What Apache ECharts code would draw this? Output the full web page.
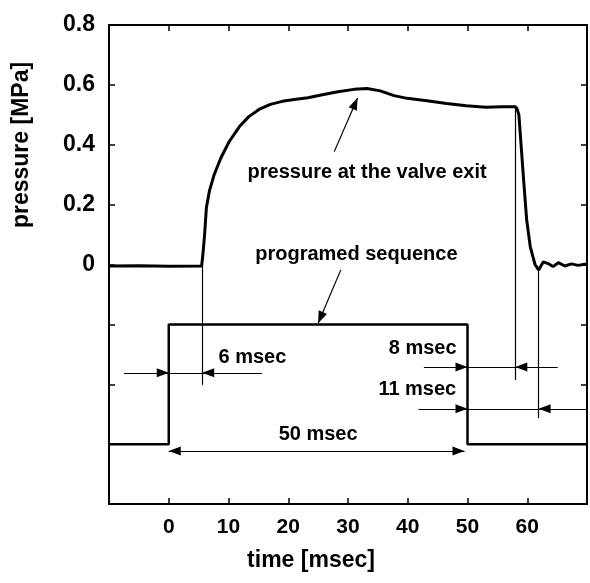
<!DOCTYPE html>
<html>
<head>
<meta charset="utf-8">
<script src="https://cdn.jsdelivr.net/npm/echarts@6/dist/echarts.min.js"></script>
<style>
  html, body { margin: 0; padding: 0; background: #fff; }
  #chart { width: 590px; height: 583px; }
</style>
</head>
<body>
<div id="chart"></div>
<script>
// pressure at the valve exit
const pressTime = [-10, -5, 0, 5.5, 5.7, 6.0, 6.3, 6.8, 7.6, 8.7, 10.1, 11.8, 13.4, 15.1, 17.0, 19.0, 21.0, 23.3, 25.5, 28.3, 31.0, 33.2, 35.4, 37.7, 39.9, 43.2, 46.5, 49.8, 53.1, 55.8, 58.0, 58.3, 58.6, 59.0, 59.4, 59.9, 60.5, 61.3, 61.9, 62.7, 63.5, 64.3, 65.2, 66.3, 67.4, 68.5, 69.6, 70]
const pressValue = [-0.005, -0.004, -0.006, -0.005, 0.03, 0.10, 0.19, 0.245, 0.30, 0.355, 0.41, 0.46, 0.494, 0.518, 0.535, 0.545, 0.551, 0.557, 0.566, 0.577, 0.585, 0.588, 0.58, 0.564, 0.555, 0.547, 0.538, 0.53, 0.525, 0.527, 0.527, 0.52, 0.5, 0.39, 0.28, 0.15, 0.06, 0.0, -0.018, 0.009, 0.003, -0.007, 0.006, -0.005, 0.002, -0.003, 0.001, 0]

// programed sequence (step)
const stepTime = [-10, 0, 0, 50, 50, 70]
const stepValue = [-0.6, -0.6, -0.2, -0.2, -0.6, -0.6]

// thin vertical marker lines: x, top, bottom
const markerLines = [[5.6, 0, -0.402], [58, 0.527, -0.386], [61.9, -0.01, -0.513]]

// dimension lines: y, from, to
const dimLines = [[-0.362, -7.5, 15.6], [-0.342, 42.7, 65.1], [-0.482, 41.8, 70], [-0.623, 0, 49.5]]
// arrowheads on them: y, tail x, tip x
const arrowHeads = [
  [-0.362, -3, 0], [-0.362, 9, 5.6],
  [-0.342, 46, 50], [-0.342, 62, 58],
  [-0.482, 46, 50], [-0.482, 66, 61.9],
  [-0.623, 4, 0], [-0.623, 45, 49.5]
]
// pointer arrows from labels: x1, y1, tip x, tip y
const pointers = [[27.7, 0.377, 31.6, 0.556], [28.8, -0.018, 25.0, -0.196]]

// annotation texts and where they sit
const noteText = ['pressure at the valve exit', 'programed sequence', '6 msec', '8 msec', '11 msec', '50 msec']
const noteX = [33.2, 31.4, 14.0, 42.5, 41.6, 25.0]
const noteY = [0.306, 0.032, -0.312, -0.282, -0.416, -0.569]

const xTicks = [0, 10, 20, 30, 40, 50, 60]
const yTicks = [0, 0.2, 0.4, 0.6, 0.8]

const chart = echarts.init(document.getElementById('chart'))

const boldFont = "'Liberation Sans', Arial, sans-serif"

const axisBase = {
  type: 'value',
  splitLine: { show: false },
  axisLine: { show: true, onZero: false, lineStyle: { color: '#000', width: 2 } },
  axisTick: { show: true, inside: true, length: 6, lineStyle: { color: '#000', width: 1.5 } }
}

// thin annotation lines (markLine, no symbols)
const mlData = []
markerLines.forEach(m => {
  mlData.push([{ coord: [m[0], m[1]] }, { coord: [m[0], m[2]] }])
})
dimLines.forEach(d => {
  mlData.push([{ coord: [d[1], d[0]] }, { coord: [d[2], d[0]] }])
})
pointers.forEach(p => {
  mlData.push([{ coord: [p[0], p[1]] }, { coord: [p[2], p[3]] }])
})

// arrowheads: tail x, tail y, tip x, tip y
const headData = arrowHeads.map(a => [a[1], a[0], a[2], a[0]])
  .concat(pointers.map(p => [p[0], p[1], p[2], p[3]]))

// filled triangle whose tip sits on the tip coordinate
const renderHead = (params, api) => {
  const tail = api.coord([api.value(0), api.value(1)])
  const tip = api.coord([api.value(2), api.value(3)])
  const dx = tip[0] - tail[0]
  const dy = tip[1] - tail[1]
  const len = Math.sqrt(dx * dx + dy * dy) || 1
  const ux = dx / len, uy = dy / len
  const L = 12, W = 4.5
  const bx = tip[0] - ux * L, by = tip[1] - uy * L
  return {
    type: 'polygon',
    shape: { points: [tip, [bx - uy * W, by + ux * W], [bx + uy * W, by - ux * W]] },
    style: { fill: '#000' }
  }
}

const option = {
  animation: false,
  backgroundColor: '#fff',
  grid: { left: 109, top: 25, right: -3, bottom: 79 },
  xAxis: [
    {
      ...axisBase,
      position: 'bottom',
      min: -10, max: 70, interval: 10,
      axisLabel: {
        margin: 13,
        color: '#000',
        fontSize: 21,
        fontWeight: 'bold',
        fontFamily: boldFont,
        formatter: v => (xTicks.includes(v) ? String(v) : '')
      }
    },
    {
      ...axisBase,
      position: 'top',
      min: -10, max: 70, interval: 10,
      axisLabel: { show: false }
    }
  ],
  yAxis: [
    {
      ...axisBase,
      position: 'left',
      min: -0.8, max: 0.8, interval: 0.2,
      axisLabel: {
        margin: 14,
        color: '#000',
        fontSize: 23,
        fontWeight: 'bold',
        fontFamily: boldFont,
        formatter: v => {
          const r = Math.round(v * 10) / 10
          if (!yTicks.includes(r)) return ''
          return r === 0 ? '0' : r.toFixed(1)
        }
      }
    },
    {
      ...axisBase,
      position: 'right',
      min: -0.8, max: 0.8, interval: 0.2,
      axisLabel: { show: false }
    }
  ],
  graphic: [
    {
      type: 'text', x: 22, y: 145, rotation: Math.PI / 2,
      style: { text: 'pressure [MPa]', font: "bold 23px 'Liberation Sans', Arial, sans-serif", fill: '#000', align: 'center', verticalAlign: 'middle' }
    },
    {
      type: 'text', x: 311, y: 561,
      style: { text: 'time [msec]', font: "bold 23px 'Liberation Sans', Arial, sans-serif", fill: '#000', align: 'center', verticalAlign: 'middle' }
    }
  ],
  series: [
    {
      name: 'pressure',
      type: 'line',
      showSymbol: false,
      lineStyle: { color: '#000', width: 3 },
      data: pressTime.map((t, i) => [t, pressValue[i]])
    },
    {
      name: 'programed sequence',
      type: 'line',
      showSymbol: false,
      lineStyle: { color: '#000', width: 2.5 },
      data: stepTime.map((t, i) => [t, stepValue[i]]),
      markLine: {
        silent: true,
        symbol: ['none', 'none'],
        label: { show: false },
        lineStyle: { color: '#000', width: 1.2, type: 'solid' },
        emphasis: { disabled: true },
        data: mlData
      }
    },
    {
      name: 'arrowheads',
      type: 'custom',
      silent: true,
      renderItem: renderHead,
      data: headData
    },
    {
      name: 'notes',
      type: 'scatter',
      symbolSize: 0,
      silent: true,
      itemStyle: { opacity: 1 },
      data: noteX.map((x, i) => [x, noteY[i]]),
      label: {
        show: true,
        position: 'inside',
        color: '#000',
        opacity: 1,
        fontSize: 20,
        fontWeight: 'bold',
        fontFamily: boldFont,
        formatter: p => noteText[p.dataIndex]
      }
    }
  ]
}

chart.setOption(option)
</script>
</body>
</html>
